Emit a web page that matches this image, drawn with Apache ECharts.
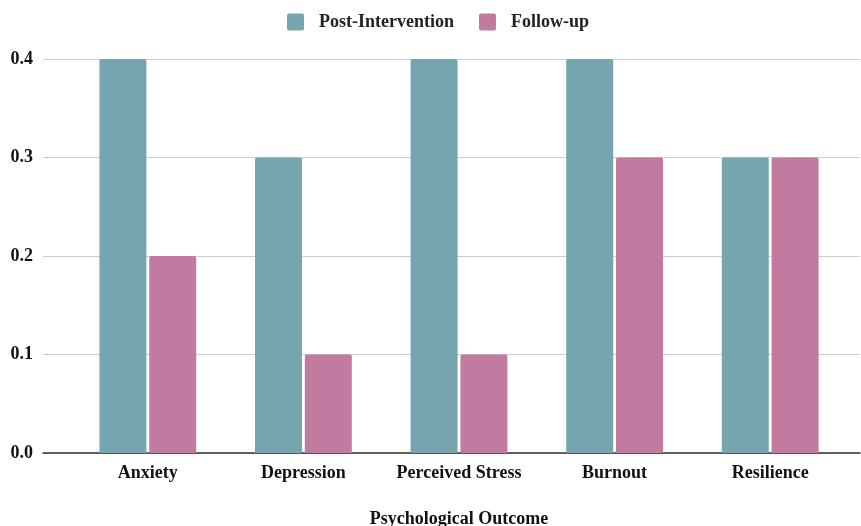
<!DOCTYPE html>
<html><head><meta charset="utf-8">
<script src="https://cdn.jsdelivr.net/npm/echarts@6/dist/echarts.min.js"></script>
<style>html,body{margin:0;padding:0;background:#fff}#c{width:861px;height:526px}</style>
</head><body><div id="c"></div>
<script>
const categories = ["Anxiety", "Depression", "Perceived Stress", "Burnout", "Resilience"];
const postIntervention = [0.4, 0.3, 0.4, 0.4, 0.3];
const followUp = [0.2, 0.1, 0.1, 0.3, 0.3];
const yTicks = [0, 0.1, 0.2, 0.3, 0.4];

const FONT = '"Liberation Serif", "Times New Roman", serif';
const ICON = 'path://M2,0 H15 Q17,0 17,2 V15 Q17,17 15,17 H2 Q0,17 0,15 V2 Q0,0 2,0 Z';
const chart = echarts.init(document.getElementById('c'), null, {renderer: 'canvas'});
chart.setOption({
  animation: false,
  color: ['#76A5AF', '#C27BA0'],
  legend: {
    top: 8, left: 282, itemWidth: 17, itemHeight: 17, itemGap: 25,
    icon: ICON,
    textStyle: {fontFamily: FONT, fontWeight: 'bold', fontSize: 18, color: '#222', padding: [0, 0, 0, 10]},
    data: ['Post-Intervention', 'Follow-up']
  },
  grid: [
    {left: 43, right: 1, top: 59, bottom: 73, outerBoundsMode: 'none', containLabel: false},
    {left: 70, right: 13, top: 59, bottom: 73, outerBoundsMode: 'none', containLabel: false}
  ],
  xAxis: [
    {type: 'category', gridIndex: 0, data: [''], axisTick: {show: false}, axisLabel: {show: false},
     axisLine: {lineStyle: {color: '#333', width: 1.5}}},
    {type: 'category', gridIndex: 1, data: categories, axisTick: {show: false}, axisLine: {show: false},
     axisLabel: {fontFamily: FONT, fontWeight: 'bold', fontSize: 18, color: '#111', margin: 11, interval: 0},
     name: 'Psychological Outcome', nameLocation: 'middle', nameGap: 57,
     nameTextStyle: {fontFamily: FONT, fontWeight: 'bold', fontSize: 18, color: '#111'}}
  ],
  yAxis: [
    {type: 'value', gridIndex: 0, min: yTicks[0], max: yTicks[yTicks.length - 1], interval: 0.1,
     axisLabel: {fontFamily: FONT, fontWeight: 'bold', fontSize: 18, color: '#111', margin: 10,
       formatter: v => v.toFixed(1)},
     splitLine: {lineStyle: {color: '#cccccc', width: 1}}, axisLine: {show: false}, axisTick: {show: false}},
    {type: 'value', gridIndex: 1, min: yTicks[0], max: yTicks[yTicks.length - 1], interval: 0.1,
     show: false, splitLine: {show: false}}
  ],
  series: [
    {name: 'Post-Intervention', type: 'bar', xAxisIndex: 1, yAxisIndex: 1, data: postIntervention,
     barWidth: 47, barGap: '6%', itemStyle: {borderRadius: [2, 2, 0, 0]}},
    {name: 'Follow-up', type: 'bar', xAxisIndex: 1, yAxisIndex: 1, data: followUp,
     barWidth: 47, barGap: '6%', itemStyle: {borderRadius: [2, 2, 0, 0]}}
  ]
});
</script></body></html>
